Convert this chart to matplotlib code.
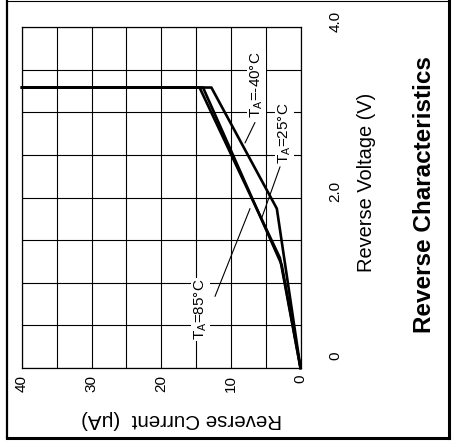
import matplotlib.pyplot as plt
import matplotlib.transforms as mtransforms
from matplotlib.lines import Line2D
import numpy as np

plt.rcParams['font.family'] = ['Liberation Sans', 'DejaVu Sans']
plt.rcParams['mathtext.fontset'] = 'custom'
plt.rcParams['mathtext.rm'] = 'Liberation Sans'

# Reverse characteristics: current (uA) vs voltage (V), drawn rotated
cur_m40 = [0, 3.4, 12.8, 40]
volt_m40 = [0, 1.87, 3.29, 3.29]
cur_25 = [0, 2.7, 14.0, 40]
volt_25 = [0, 1.21, 3.29, 3.29]
cur_85 = [0, 2.95, 14.5, 40]
volt_85 = [0, 1.29, 3.29, 3.29]

cur_ticks = [0, 5, 10, 15, 20, 25, 30, 35, 40]
cur_labels = ['0', '', '10', '', '20', '', '30', '', '40']
volt_ticks = [0, 0.5, 1.0, 1.5, 2.0, 2.5, 3.0, 3.5, 4.0]
volt_labels = ['0', '', '', '', '2.0', '', '', '', '4.0']

W, H = 461, 447
fig = plt.figure(figsize=(W / 100, H / 100), dpi=100)
ax = fig.add_axes([22 / W, 1 - 368 / H, 278.5 / W, 341 / H])
ax.set_xlim(40, 0)
ax.set_ylim(0, 4)

ax.set_xticks(cur_ticks)
ax.set_xticklabels(cur_labels, rotation=90, fontsize=11)
ax.yaxis.tick_right()
ax.set_yticks(volt_ticks)
ax.set_yticklabels(volt_labels, rotation=90, fontsize=11)
ax.tick_params(axis='x', length=0, pad=5)
ax.tick_params(axis='y', length=0, pad=20)
# voltage labels sit a bit above their grid lines in the original
shift = mtransforms.ScaledTranslation(0, 11 / 100, fig.dpi_scale_trans)
for lab in ax.get_yticklabels():
    lab.set_transform(lab.get_transform() + shift)

ax.grid(True, color='black', lw=0.8)
for s in ax.spines.values():
    s.set_linewidth(0.9)
    s.set_color('black')

for c, v in [(cur_m40, volt_m40), (cur_25, volt_25), (cur_85, volt_85)]:
    ax.plot(c, v, color='black', lw=1.9, solid_joinstyle='round', clip_on=False, zorder=3)

# curve labels with leader lines
lbl_kw = dict(rotation=90, fontsize=11, ha='center', va='center',
              bbox=dict(fc='white', ec='none', pad=0.5), zorder=4)
ax.text(6.32, 3.32, r'T$_{\rm A}$=-40°C', **lbl_kw)
ax.text(2.30, 2.75, r'T$_{\rm A}$=25°C', **lbl_kw)
ax.text(14.36, 0.69, r'T$_{\rm A}$=85°C', **lbl_kw)
lead_kw = dict(arrowprops=dict(arrowstyle='-', color='black', lw=0.8, shrinkA=0, shrinkB=0))
ax.annotate('', xy=(7.97, 2.64), xytext=(6.54, 2.88), **lead_kw)
ax.annotate('', xy=(5.57, 1.76), xytext=(2.94, 2.36), **lead_kw)
ax.annotate('', xy=(7.25, 1.87), xytext=(12.28, 0.84), **lead_kw)

fig.text(182 / W, 1 - 420 / H, 'Reverse Current  (μA)', rotation=180,
         ha='center', va='center', fontsize=14.8)
fig.text(366 / W, 1 - 182 / H, 'Reverse Voltage (V)', rotation=90,
         ha='center', va='center', fontsize=14.4)
fig.text(424 / W, 1 - 195 / H, 'Reverse Characteristics', rotation=90,
         ha='center', va='center', fontsize=17.5, fontweight='bold')

# outer frame
fig.add_artist(Line2D([6.5 / W, 6.5 / W], [1 - 438 / H, 1], lw=1.6, color='black', transform=fig.transFigure))
fig.add_artist(Line2D([448.5 / W, 448.5 / W], [1 - 438 / H, 1], lw=2.2, color='black', transform=fig.transFigure))
fig.add_artist(Line2D([6.5 / W, 448.5 / W], [1 - 438 / H, 1 - 438 / H], lw=2.2, color='black', transform=fig.transFigure))
fig.add_artist(Line2D([6.5 / W, 448.5 / W], [1 - 0.5 / H, 1 - 0.5 / H], lw=0.8, color='black', transform=fig.transFigure))

fig.savefig('out.png', dpi=100)
